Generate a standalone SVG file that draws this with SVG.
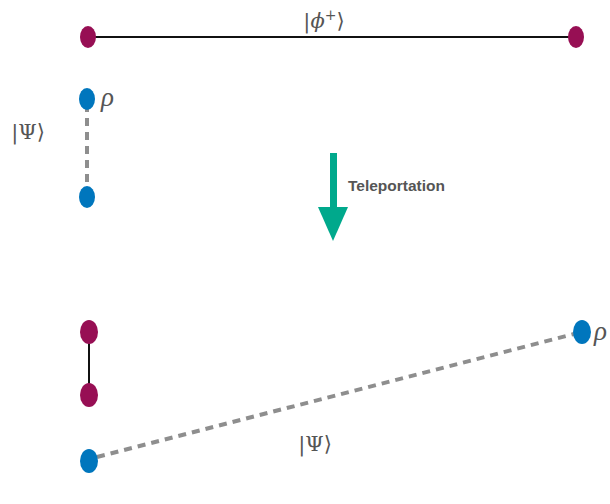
<svg xmlns="http://www.w3.org/2000/svg" width="610" height="504" viewBox="0 0 610 504">
<style>
.m{fill:#970f54}
.b{fill:#0076bd}
.solid{stroke:#111;stroke-width:2;fill:none}
.dash{stroke:#8e8e8e;stroke-width:4;stroke-dasharray:8 6;fill:none}
.math{font-family:"DejaVu Serif","Liberation Serif",serif;font-size:21px;fill:#555}
.mi{font-family:"Liberation Serif","DejaVu Serif",serif;font-style:italic;font-size:27px;fill:#555}
.lbl{font-family:"Liberation Sans",Arial,sans-serif;font-weight:bold;font-size:15.5px;fill:#555}
</style>
<g id="connectors">
<line class="solid" x1="88" y1="37" x2="576" y2="37"/>
<line class="dash" x1="87" y1="104" x2="87" y2="192"/>
<line class="solid" x1="89" y1="336" x2="89" y2="390"/>
<line class="dash" x1="97" y1="457" x2="574" y2="334"/>
<rect x="330" y="153" width="7" height="55" fill="#00a98c"/>
<polygon points="318,207 348,207 333,241" fill="#00a98c"/>
</g>
<g id="n1"><ellipse class="m" cx="88" cy="37" rx="8" ry="11"/></g>
<g id="n2"><ellipse class="m" cx="576" cy="37" rx="8" ry="11"/></g>
<g id="n3"><ellipse class="b" cx="87" cy="99" rx="8" ry="11"/></g>
<g id="n4"><ellipse class="b" cx="87" cy="197" rx="8" ry="11"/></g>
<g id="n5"><ellipse class="m" cx="89" cy="332" rx="9" ry="12"/></g>
<g id="n6"><ellipse class="m" cx="89" cy="395" rx="9" ry="12"/></g>
<g id="n7"><ellipse class="b" cx="582" cy="332" rx="9" ry="12"/></g>
<g id="n8"><ellipse class="b" cx="89" cy="461" rx="9" ry="12"/></g>
<g id="labels">
<text class="math" x="324" y="28" text-anchor="middle">|<tspan font-style="italic">ϕ</tspan><tspan font-size="14" dy="-8">+</tspan><tspan dy="8">⟩</tspan></text>
<text class="mi" x="101" y="106">ρ</text>
<text class="math" x="28" y="139" text-anchor="middle">|Ψ⟩</text>
<text class="lbl" x="348" y="191">Teleportation</text>
<text class="mi" x="594" y="340">ρ</text>
<text class="math" x="315" y="451" text-anchor="middle">|Ψ⟩</text>
</g>
</svg>
